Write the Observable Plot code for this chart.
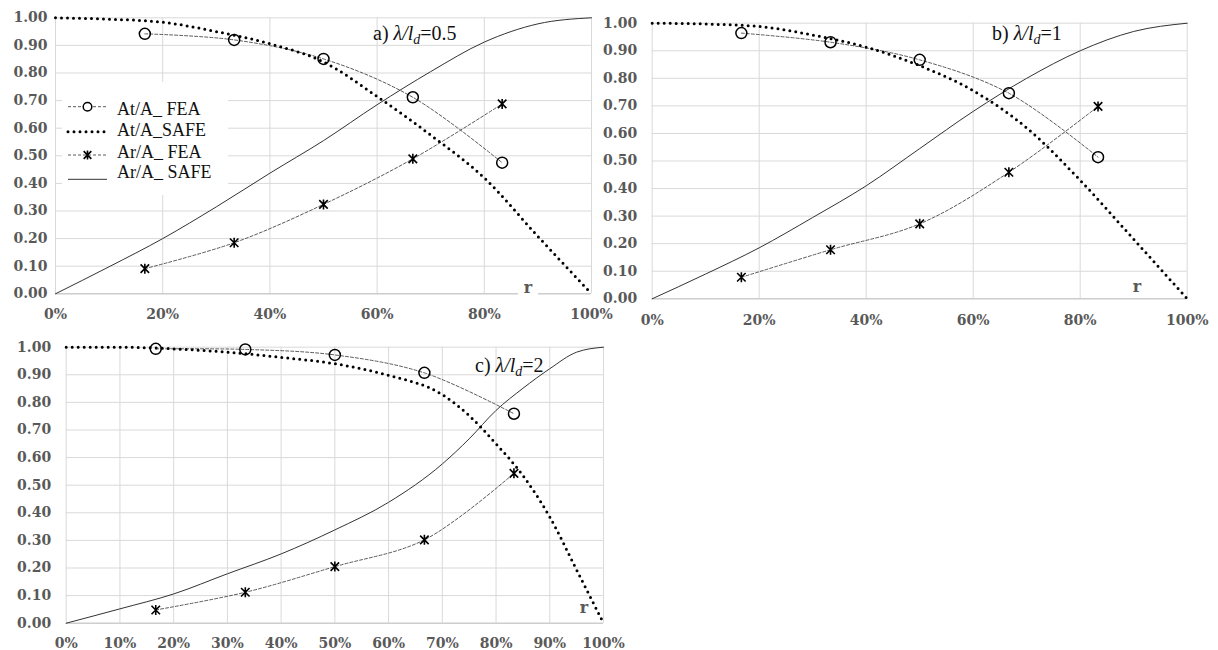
<!DOCTYPE html>
<html><head><meta charset="utf-8">
<script src="https://cdn.jsdelivr.net/npm/d3@7"></script>
<script src="https://cdn.jsdelivr.net/npm/@observablehq/plot@0.6"></script>
<style>
html,body{margin:0;padding:0;background:#fff}
body{width:1218px;height:650px;position:relative;overflow:hidden}
.panel{position:absolute}
#overlay{position:absolute;left:0;top:0;pointer-events:none}
</style></head><body>
<div id="pa" class="panel" style="left:0;top:0"></div>
<div id="pb" class="panel" style="left:610px;top:0"></div>
<div id="pc" class="panel" style="left:0;top:325px"></div>
<svg id="overlay" width="1218" height="650"></svg>
<script>
// ---- data ----
const rFEA = [1/6, 2/6, 3/6, 4/6, 5/6];
const atFEA_a = [0.942, 0.920, 0.851, 0.712, 0.475];
const arFEA_a = [0.091, 0.185, 0.324, 0.489, 0.688];
const atFEA_b = [0.964, 0.931, 0.867, 0.746, 0.514];
const arFEA_b = [0.078, 0.178, 0.272, 0.459, 0.698];
const atFEA_c = [0.994, 0.992, 0.972, 0.907, 0.759];
const arFEA_c = [0.048, 0.112, 0.205, 0.302, 0.543];

const rSAFE_ab = [0, 0.1, 0.2, 0.3, 0.4, 0.5, 0.6, 0.7, 0.8, 0.9, 1.0];
const atSAFE_a = [1, 0.995, 0.984, 0.950, 0.906, 0.840, 0.715, 0.575, 0.420, 0.208, 0];
const arSAFE_a = [0, 0.098, 0.200, 0.315, 0.437, 0.555, 0.685, 0.805, 0.912, 0.978, 1];
const atSAFE_b = [1, 0.997, 0.988, 0.957, 0.913, 0.846, 0.755, 0.620, 0.430, 0.216, 0];
const arSAFE_b = [0, 0.090, 0.185, 0.295, 0.410, 0.545, 0.680, 0.800, 0.900, 0.970, 1];
const rSAFE_c = [0, 0.1, 0.2, 0.3, 0.4, 0.5, 0.6, 0.7, 0.75, 0.8, 0.85, 0.9, 0.95, 1.0];
const atSAFE_c = [1, 1, 0.994, 0.982, 0.963, 0.940, 0.898, 0.828, 0.752, 0.650, 0.535, 0.385, 0.193, 0];
const arSAFE_c = [0, 0.052, 0.106, 0.179, 0.251, 0.338, 0.438, 0.577, 0.668, 0.771, 0.851, 0.922, 0.982, 1];

const yTicks = [0, 0.1, 0.2, 0.3, 0.4, 0.5, 0.6, 0.7, 0.8, 0.9, 1.0];
const xTicks_ab = [0, 0.2, 0.4, 0.6, 0.8, 1.0];
const xTicks_c = [0, 0.1, 0.2, 0.3, 0.4, 0.5, 0.6, 0.7, 0.8, 0.9, 1.0];
const seriesNames = ["At/A_ FEA", "At/A_SAFE", "Ar/A_ FEA", "Ar/A_ SAFE"];
const panelLetters = ["a)", "b)", "c)"];
const ratioValues = ["0.5", "1", "2"];
const axisName = "r";

// ---- styles ----
const FEA_STYLE = {stroke: "#5a5a5a", strokeWidth: 1, strokeDasharray: "3,2"};
const SAFE_AT_STYLE = {stroke: "#000", strokeWidth: 3, strokeDasharray: "0,6", strokeLinecap: "round"};
const SAFE_AR_STYLE = {stroke: "#333", strokeWidth: 1};

// Excel-like "star" marker: an X with a vertical bar
const starSymbol = {
  draw(ctx, size) {
    const r = Math.sqrt(size / Math.PI);
    const a = r * 0.85;
    ctx.moveTo(-a, -a); ctx.lineTo(a, a);
    ctx.moveTo(-a, a); ctx.lineTo(a, -a);
    ctx.moveTo(0, -r); ctx.lineTo(0, r);
  }
};

function makePanel(el, o, rSafe, atSafe, arSafe, atFea, arFea, xTicks) {
  const safe = rSafe.map((r, i) => ({r, at: atSafe[i], ar: arSafe[i]}));
  const fea = rFEA.map((r, i) => ({r, at: atFea[i], ar: arFea[i]}));
  const chart = Plot.plot({
    width: o.width, height: o.height,
    marginTop: o.mt, marginRight: o.mr, marginBottom: o.mb, marginLeft: o.ml,
    style: {fontFamily: "DejaVu Serif", fontWeight: "bold", fontSize: "14px", color: "#595959", background: "transparent", overflow: "visible"},
    x: {domain: [0, 1]},
    y: {domain: [0, 1]},
    marks: [
      Plot.gridX({ticks: xTicks, stroke: "#d9d9d9", strokeOpacity: 1}),
      Plot.gridY({ticks: yTicks, stroke: "#d9d9d9", strokeOpacity: 1}),
      Plot.ruleY([0], {stroke: "#c4c4c4"}),
      Plot.axisX({ticks: xTicks, tickSize: 0, tickPadding: o.xpad, tickFormat: d3.format(".0%"), label: null}),
      Plot.axisY({ticks: yTicks, tickSize: 0, tickPadding: o.ypad, tickFormat: d3.format(".2f"), label: null}),
      Plot.line(fea, {x: "r", y: "at", curve: "catmull-rom", ...FEA_STYLE}),
      Plot.line(fea, {x: "r", y: "ar", curve: "catmull-rom", ...FEA_STYLE}),
      Plot.line(safe, {x: "r", y: "ar", curve: "monotone-x", ...SAFE_AR_STYLE}),
      Plot.line(safe, {x: "r", y: "at", curve: "monotone-x", ...SAFE_AT_STYLE}),
      Plot.dot(fea, {x: "r", y: "at", r: 5.5, stroke: "#000", strokeWidth: 1.5, fill: "none"}),
      Plot.dot(fea, {x: "r", y: "ar", symbol: starSymbol, r: 5, stroke: "#000", strokeWidth: 1.6})
    ]
  });
  document.getElementById(el).appendChild(chart);
}

makePanel("pa", {width: 610, height: 325, mt: 17.3, mr: 19, mb: 31.7, ml: 55, xpad: 15, ypad: 8},
  rSAFE_ab, atSAFE_a, arSAFE_a, atFEA_a, arFEA_a, xTicks_ab);
makePanel("pb", {width: 608, height: 330, mt: 22.7, mr: 31.3, mb: 31.7, ml: 41.7, xpad: 16, ypad: 15},
  rSAFE_ab, atSAFE_b, arSAFE_b, atFEA_b, arFEA_b, xTicks_ab);
makePanel("pc", {width: 620, height: 325, mt: 21.7, mr: 17, mb: 27.3, ml: 65.7, xpad: 15, ypad: 15},
  rSAFE_c, atSAFE_c, arSAFE_c, atFEA_c, arFEA_c, xTicks_c);

// ---- overlay: legend, titles, axis name ----
const ov = d3.select("#overlay");
// legend (panel a)
const lg = ov.append("g");
lg.append("rect").attr("x", 62).attr("y", 82).attr("width", 166).attr("height", 113).attr("fill", "#fff");
const rowsY = [106.7, 131.7, 155, 179.3];
const textY = [115, 135.5, 157.5, 178];
const applyStyle = (sel, s) => sel.attr("stroke", s.stroke).attr("stroke-width", s.strokeWidth)
  .attr("stroke-dasharray", s.strokeDasharray || null).attr("stroke-linecap", s.strokeLinecap || null).attr("fill", "none");
const legendStyles = [FEA_STYLE, SAFE_AT_STYLE, FEA_STYLE, SAFE_AR_STYLE];
seriesNames.forEach((name, i) => {
  applyStyle(lg.append("line").attr("x1", 68).attr("x2", 107).attr("y1", rowsY[i]).attr("y2", rowsY[i]), legendStyles[i]);
  if (i === 0) lg.append("circle").attr("cx", 87.5).attr("cy", rowsY[i]).attr("r", 4.3).attr("fill", "#fff").attr("stroke", "#000").attr("stroke-width", 1.5);
  if (i === 2) lg.append("path").attr("transform", `translate(87.5,${rowsY[i]})`).attr("d", d3.symbol(starSymbol, Math.PI * 4.5 * 4.5)()).attr("stroke", "#000").attr("stroke-width", 1.6).attr("fill", "none");
  lg.append("text").attr("x", 117).attr("y", textY[i]).attr("font-family", "Liberation Serif").attr("font-size", 18).attr("fill", "#111").text(name);
});
// titles
const titlePos = [[373, 40], [992, 40], [475, 372]];
titlePos.forEach(([x, y], i) => {
  const t = ov.append("text").attr("x", x).attr("y", y).attr("font-family", "Liberation Serif").attr("font-size", 20).attr("fill", "#111");
  t.append("tspan").text(panelLetters[i] + " ");
  t.append("tspan").attr("font-style", "italic").text("λ/l");
  t.append("tspan").attr("font-style", "italic").attr("font-size", 14).attr("dy", 4).text("d");
  t.append("tspan").attr("dy", -4).text("=" + ratioValues[i]);
});
// axis name "r"
const rPos = [[528, 293], [1137, 291.5], [584, 613]];
rPos.forEach(([x, y], i) => {
  if (i === 0) ov.append("rect").attr("x", x - 10).attr("y", y - 13).attr("width", 20).attr("height", 16).attr("fill", "#fff");
  ov.append("text").attr("x", x).attr("y", y).attr("text-anchor", "middle").attr("font-family", "DejaVu Serif").attr("font-weight", "bold").attr("font-size", 16).attr("fill", "#595959").text(axisName);
});
</script>
</body></html>
